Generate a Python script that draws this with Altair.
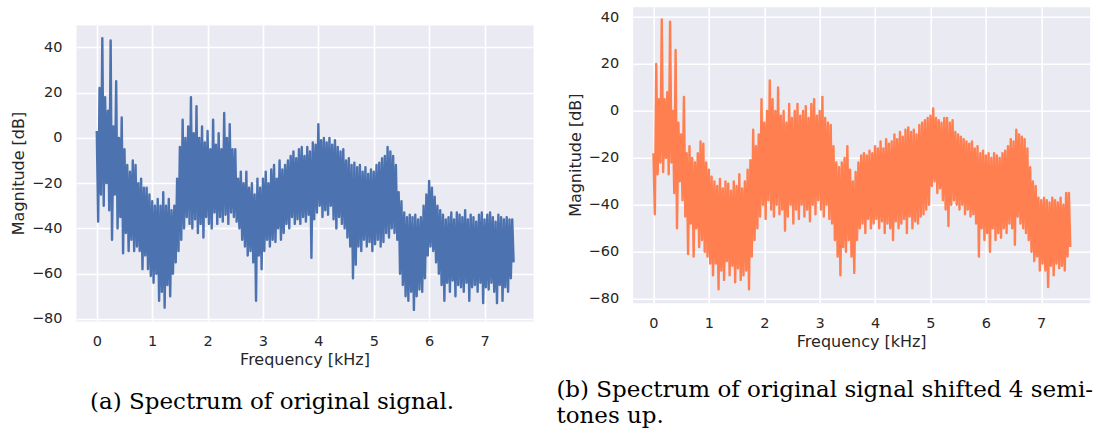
import altair as alt
import pandas as pd

# Frequency grid of the magnitude envelopes (kHz)
FREQ_KHZ = [round(i * 0.05, 2) for i in range(151)]
HALF_STEP_KHZ = 0.025

X_TICKS = [0, 1, 2, 3, 4, 5, 6, 7]
Y_TICKS = [-80, -60, -40, -20, 0, 20, 40]

# Original signal: upper and lower envelope of the magnitude spectrum (dB)
ORIG_HI = [
    3, 22, 44, 18, 12, 43, 5, 25, 0, 9,
    -5, -12, -15, -10, -12, -20, -18, -22, -22, -25,
    -28, -30, -27, -30, -24, -30, -27, -32, -30, -18,
    -4, 8, 0, 5, 18, 2, 14, 0, 5, -2,
    3, -5, 8, -3, 2, -5, 11, 0, 6, -5,
    -5, -18, -15, -20, -15, -22, -20, -25, -18, -22,
    -18, -15, -20, -14, -12, -18, -10, -14, -12, -10,
    -8, -6, -9, -5, -4, -8, -4, -6, -2, -3,
    6, -1, 0, -2, 0, -3, -1, -4, -6, -5,
    -10, -9, -12, -11, -13, -12, -15, -13, -16, -14,
    -15, -12, -11, -9, -8, -4, -6, -8, -12, -24,
    -28, -33, -35, -34, -35, -34, -36, -35, -30, -25,
    -19, -22, -26, -30, -32, -34, -36, -35, -33, -36,
    -33, -34, -35, -32, -36, -34, -35, -37, -34, -33,
    -36, -34, -33, -35, -37, -34, -35, -36, -35, -36,
    -36,
]
ORIG_LO = [
    -37, -25, -30, -20, -32, -45, -25, -40, -35, -51,
    -42, -50, -45, -50, -48, -50, -58, -52, -58, -61,
    -64, -60, -72, -68, -75, -65, -70, -60, -55, -50,
    -45, -40, -35, -38, -40, -36, -42, -38, -44, -35,
    -38, -40, -33, -38, -35, -37, -34, -38, -33, -35,
    -37, -40, -45, -48, -52, -50, -55, -72, -52, -58,
    -50, -45, -48, -45, -46, -40, -45, -42, -38, -40,
    -35, -38, -36, -38, -35, -37, -34, -53, -36, -33,
    -30, -35, -32, -34, -30, -36, -40, -35, -38, -40,
    -44, -48, -62, -56, -48, -50, -45, -48, -46, -50,
    -47, -45, -48, -46, -42, -44, -40, -42, -45, -60,
    -65, -70, -72, -68, -76, -70, -67, -68, -62, -52,
    -48, -50, -55, -60, -65, -72, -64, -68, -63, -70,
    -65, -66, -68, -64, -72, -66, -65, -68, -64, -73,
    -66, -67, -64, -68, -73, -65, -72, -66, -68, -62,
    -55,
]

# Signal shifted 4 semitones up: upper and lower envelope (dB)
SHIFT_HI = [
    -18, 20, 5, 39, 5, 8, 38, 0, 26, -5,
    -10, 6, -18, -15, -20, -22, -18, -13, -14, -22,
    -25, -28, -30, -32, -29, -33, -30, -31, -34, -30,
    -32, -27, -33, -30, -25, -21, -8, -15, -10, 5,
    -5, 0, 13, 5, 0, 10, -2, 0, -5, 3,
    -3, 0, 3, -2, 0, 2, -3, 3, 5, -2,
    0, 6, -3, -5, -6, -15, -22, -24, -22, -20,
    -15, -25, -30, -26, -22, -19, -18, -19, -17, -18,
    -15, -16, -13, -16, -12, -14, -13, -10, -12, -9,
    -11, -8, -7, -9, -8, -10, -6, -5, -4, -3,
    -2, 1, -3, -4, -5, -3, -3, -5, -4, -9,
    -10, -11, -12, -13, -14, -13, -16, -15, -18, -17,
    -19, -18, -20, -18, -19, -20, -18, -17, -15, -12,
    -13, -8, -10, -11, -12, -16, -24, -30, -32, -37,
    -38, -37, -38, -39, -37, -38, -39, -37, -40, -35,
    -35,
]
SHIFT_LO = [
    -44, -27, -22, -26, -20, -27, -22, -35, -50, -30,
    -38, -45, -61, -48, -62, -50, -58, -55, -60, -62,
    -65, -70, -65, -76, -68, -72, -64, -70, -66, -73,
    -67, -72, -70, -68, -76, -62, -55, -50, -45, -40,
    -46, -38, -42, -45, -40, -44, -42, -51, -45, -40,
    -48, -42, -46, -40, -45, -42, -47, -40, -44, -38,
    -42, -45, -40, -46, -48, -55, -62, -70, -58, -60,
    -55, -62, -69, -55, -50, -48, -52, -46, -50, -48,
    -46, -50, -47, -52, -48, -50, -55, -47, -50, -48,
    -46, -52, -45, -50, -47, -48, -45, -44, -42, -40,
    -32, -30, -35, -33, -38, -42, -49, -40, -38, -40,
    -42, -40, -44, -42, -45, -44, -48, -62, -50, -55,
    -52, -60, -50, -55, -52, -54, -50, -52, -48, -50,
    -57, -45, -48, -50, -52, -55, -60, -64, -62, -68,
    -65, -68, -75, -66, -70, -65, -67, -66, -68, -62,
    -58,
]

CAPTION_A = ["(a) Spectrum of original signal."]
CAPTION_B = ["(b) Spectrum of original signal shifted 4 semi-", "tones up."]

PANEL_W = 457
PANEL_H = 296
TEXT_COLOR = "#262626"


def envelope_trace(hi, lo):
    """One trace that swings between the upper and lower envelope at each bin."""
    rows = []
    for i, (f, h, l) in enumerate(zip(FREQ_KHZ, hi, lo)):
        rows.append({"freq": f, "mag": h, "seq": 2 * i})
        rows.append({"freq": f + HALF_STEP_KHZ, "mag": l, "seq": 2 * i + 1})
    return pd.DataFrame(rows)


def spectrum_panel(hi, lo, color, y_domain, caption, cap_x, cap_y):
    x = alt.X(
        "freq:Q",
        scale=alt.Scale(domain=[-0.375, 7.875], nice=False, zero=False),
        axis=alt.Axis(values=X_TICKS, format="d", title="Frequency [kHz]"),
    )
    y = alt.Y(
        "mag:Q",
        scale=alt.Scale(domain=y_domain, nice=False, zero=False),
        axis=alt.Axis(values=Y_TICKS, format="d", title="Magnitude [dB]"),
    )
    trace = alt.Chart(envelope_trace(hi, lo)).mark_line(
        color=color, strokeWidth=2.4, strokeJoin="round"
    ).encode(x=x, y=y, order="seq:Q")

    layers = [trace]
    for k, txt in enumerate(caption):
        layers.append(
            alt.Chart(pd.DataFrame({"t": [txt]})).mark_text(
                align="left", baseline="alphabetic", font="DejaVu Serif",
                fontSize=23, color="black",
            ).encode(text="t:N", x=alt.value(cap_x), y=alt.value(cap_y + 26 * k))
        )
    return alt.layer(*layers).properties(width=PANEL_W, height=PANEL_H)


# small blank strip that lowers the left panel relative to the right one
spacer = alt.Chart(pd.DataFrame({"a": [0]})).mark_rule(color="white", strokeWidth=0.5).encode(
    x=alt.value(0), y=alt.value(0), y2=alt.value(1)
).properties(width=1, height=1, view=alt.ViewBackground(fill="white", stroke="transparent"))

left = alt.vconcat(
    spacer,
    spectrum_panel(ORIG_HI, ORIG_LO, "#4C72B0", [-80.9, 49.85], CAPTION_A, 14, 384.5),
    spacing=15.3,
)
right = spectrum_panel(SHIFT_HI, SHIFT_LO, "#FF7F50", [-81.7, 44.4], CAPTION_B, -76.3, 390)

chart = alt.hconcat(left, right, spacing=21.7).properties(
    padding={"left": 9, "top": 5.7, "right": 0, "bottom": 0},
    background="white",
).configure_view(
    fill="#EAEAF2", stroke="transparent"
).configure_axis(
    domain=False, ticks=False,
    grid=True, gridColor="white", gridWidth=1.6,
    labelFont="DejaVu Sans", labelFontSize=14.5, labelColor=TEXT_COLOR,
    titleFont="DejaVu Sans", titleFontSize=16, titleFontWeight="normal", titleColor=TEXT_COLOR,
).configure_axisX(
    labelPadding=14, titlePadding=3,
).configure_axisY(
    labelPadding=14, titlePadding=5,
)

chart.save("out.html", embed_options={"renderer": "svg", "actions": False})
